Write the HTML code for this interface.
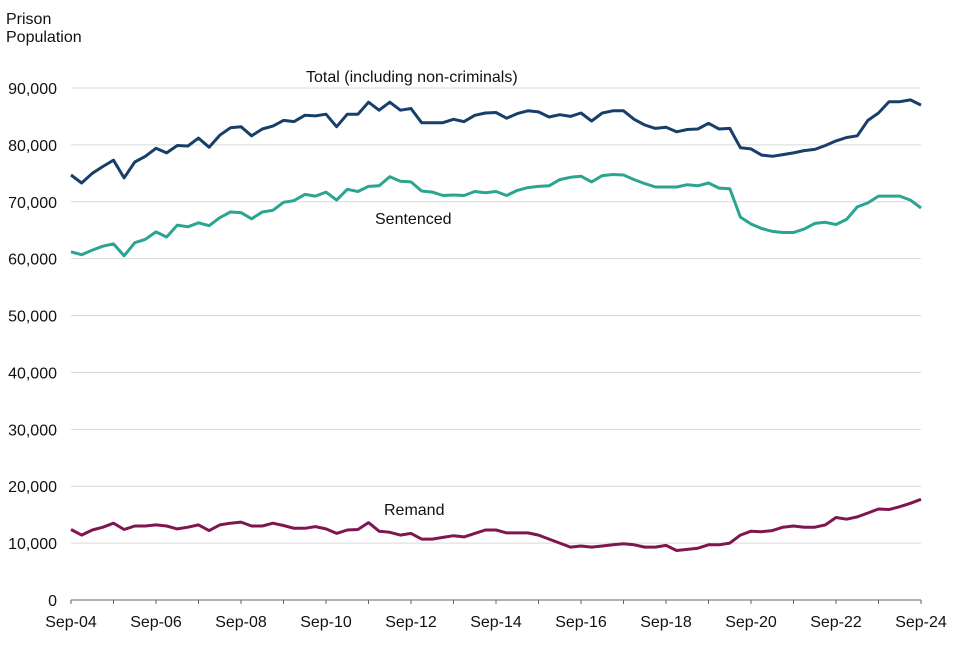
<!DOCTYPE html>
<html><head><meta charset="utf-8"><style>
body{margin:0;background:#fff;font-family:"Liberation Sans",Arial,sans-serif;}
svg text{font-family:"Liberation Sans",Arial,sans-serif;fill:#111;}
</style></head><body>
<svg id="chart" width="960" height="640"></svg>
<script>
const yTicks=[0,10000,20000,30000,40000,50000,60000,70000,80000,90000];
const xLabels=["Sep-04","Sep-06","Sep-08","Sep-10","Sep-12","Sep-14","Sep-16","Sep-18","Sep-20","Sep-22","Sep-24"];
const totalK=[74.7,73.3,75.0,76.2,77.3,74.2,77.0,78.0,79.4,78.6,79.9,79.8,81.2,79.6,81.7,83.0,83.2,81.6,82.8,83.3,84.3,84.1,85.2,85.1,85.4,83.2,85.4,85.4,87.5,86.1,87.5,86.1,86.4,83.9,83.9,83.9,84.5,84.1,85.2,85.6,85.7,84.7,85.5,86.0,85.8,84.9,85.3,85.0,85.6,84.2,85.6,86.0,86.0,84.5,83.5,82.9,83.1,82.3,82.7,82.8,83.8,82.8,82.9,79.5,79.3,78.2,78.0,78.3,78.6,79.0,79.2,79.9,80.7,81.3,81.6,84.3,85.6,87.6,87.6,87.9,87.0];
const sentencedK=[61.2,60.7,61.5,62.2,62.6,60.5,62.8,63.4,64.7,63.8,65.9,65.6,66.3,65.8,67.2,68.2,68.1,67.0,68.2,68.5,69.9,70.2,71.3,71.0,71.7,70.3,72.2,71.8,72.7,72.8,74.4,73.6,73.5,71.9,71.7,71.1,71.2,71.1,71.8,71.6,71.8,71.1,72.0,72.5,72.7,72.8,73.9,74.3,74.5,73.5,74.6,74.8,74.7,73.9,73.2,72.6,72.6,72.6,73.0,72.8,73.3,72.4,72.3,67.3,66.1,65.3,64.8,64.6,64.6,65.2,66.2,66.4,66.0,66.9,69.1,69.8,71.0,71.0,71.0,70.3,68.9];
const remandK=[12.4,11.4,12.3,12.8,13.5,12.4,13.0,13.0,13.2,13.0,12.5,12.8,13.2,12.2,13.2,13.5,13.7,13.0,13.0,13.5,13.1,12.6,12.6,12.9,12.5,11.7,12.3,12.4,13.6,12.1,11.9,11.4,11.7,10.7,10.7,11.0,11.3,11.1,11.7,12.3,12.3,11.8,11.8,11.8,11.4,10.7,10.0,9.3,9.5,9.3,9.5,9.7,9.9,9.7,9.3,9.3,9.6,8.7,8.9,9.1,9.7,9.7,10.0,11.4,12.1,12.0,12.2,12.8,13.0,12.8,12.8,13.2,14.5,14.2,14.6,15.3,16.0,15.9,16.4,17.0,17.7];
const NS="http://www.w3.org/2000/svg";
const svg=document.getElementById('chart');
const X0=71,X1=921,Y0=600,Y90=88;
const nPts=totalK.length;
function xs(i){return X0+(X1-X0)*i/(nPts-1);}
function ys(v){return Y0-(Y0-Y90)*v/90000;}
function mk(tag,attrs,txt){const e=document.createElementNS(NS,tag);for(const k in attrs)e.setAttribute(k,attrs[k]);if(txt!==undefined)e.textContent=txt;svg.appendChild(e);return e;}
yTicks.forEach(t=>{
  if(t>0){const g=mk('line',{x1:X0,x2:X1,y1:ys(t),y2:ys(t),stroke:'#d9d9d9','stroke-width':1});
  
  }
  const l=mk('text',{x:57,y:ys(t)+6,'text-anchor':'end','font-size':16},t===0?'0':t.toLocaleString('en-GB'));
  
  
});
const ax=mk('line',{x1:X0,x2:X1,y1:Y0,y2:Y0,stroke:'#666','stroke-width':1});


for(let y=0;y<=20;y++){
  const x=X0+(X1-X0)*y/20;
  const tk=mk('line',{x1:x,x2:x,y1:Y0,y2:Y0+4,stroke:'#666'});
  
  
}
xLabels.forEach((lab,i)=>{
  const x=X0+(X1-X0)*i/(xLabels.length-1);
  const t=mk('text',{x:x,y:627,'text-anchor':'middle','font-size':16},lab);
  
  
});
function series(arr,color,name){
  const pts=arr.map((v,i)=>xs(i).toFixed(1)+','+ys(v*1000).toFixed(1)).join(' ');
  const p=mk('polyline',{points:pts,fill:'none',stroke:color,'stroke-width':3,'stroke-linejoin':'round'});
  
  
}
series(totalK,'#183f69','total-line');
series(sentencedK,'#2ca492','sentenced-line');
series(remandK,'#801650','remand-line');
const labs=[["Total (including non-criminals)",306,82,'total-label'],["Sentenced",375,224,'sentenced-label'],["Remand",384,515,'remand-label']];
labs.forEach(a=>{const t=mk('text',{x:a[1],y:a[2],'font-size':16},a[0]);

});
const a1=mk('text',{x:6,y:24,'font-size':16},'Prison');


const a2=mk('text',{x:6,y:42,'font-size':16},'Population');


</script>
</body></html>
